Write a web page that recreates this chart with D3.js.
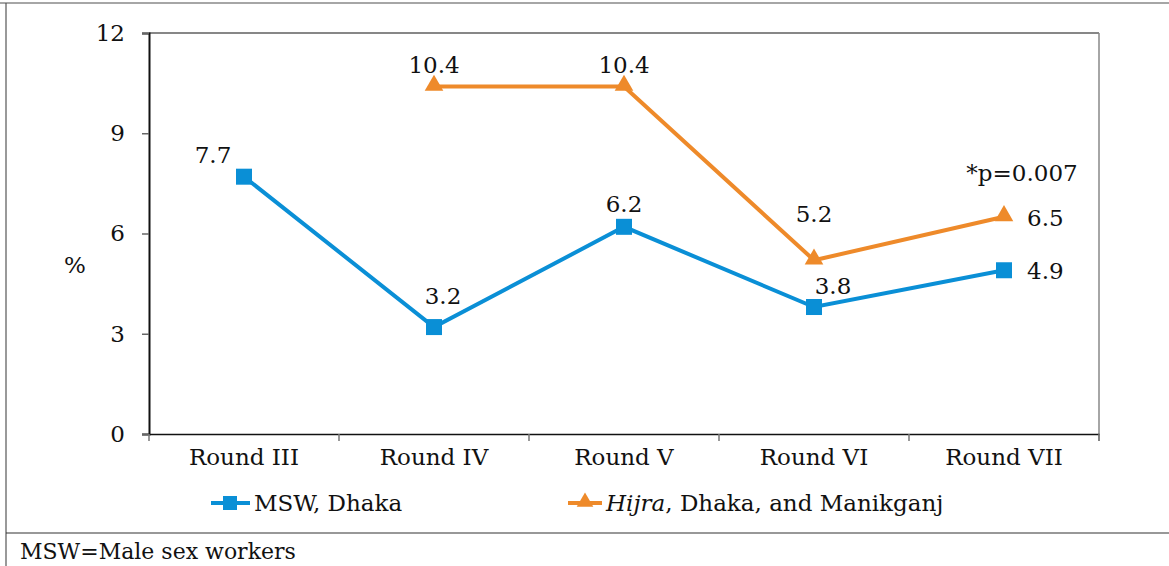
<!DOCTYPE html>
<html lang="en">
  <head>
    <meta charset="UTF-8" />
    <title>MSW and Hijra chart</title>
    <style>
      body { margin: 0; background: #fff; }
    </style>
  </head>
  <body>
  <div id="chart"></div>
  <script src="https://d3js.org/d3.v7.min.js"></script>
  <script>

var rounds = ["Round III", "Round IV", "Round V", "Round VI", "Round VII"];
var mswValues = [7.7, 3.2, 6.2, 3.8, 4.9];
var hijraValues = [null, 10.4, 10.4, 5.2, 6.5];
var yTicks = [0, 3, 6, 9, 12];

var w = 1169;
var h = 566;
var blue = "#0a8fd6";
var orange = "#ee8a2a";
var serif = "'DejaVu Serif', serif";
var fs = "23px";

var svg = d3.select("#chart").append("svg")
            .attr("width", w)
            .attr("height", h)
            .attr("font-family", serif);

// outer frame lines
svg.append("line").attr("x1", 0).attr("x2", w).attr("y1", 3).attr("y2", 3)
   .attr("stroke", "#888").attr("stroke-width", 1.5);
svg.append("line").attr("x1", 6).attr("x2", 6).attr("y1", 3).attr("y2", h)
   .attr("stroke", "#555").attr("stroke-width", 1.2);
svg.append("line").attr("x1", 6).attr("x2", w).attr("y1", 533).attr("y2", 533)
   .attr("stroke", "#333").attr("stroke-width", 1.2);

svg.append("text").attr("x", 20).attr("y", 559)
   .attr("font-family", serif).style("font-size", "22px").attr("fill", "#111")
   .text("MSW=Male sex workers");

var x = d3.scaleBand().domain(rounds).range([149, 1099]);
var y = d3.scaleLinear().domain([0, 12]).range([434, 33]);

// plot box top and right
svg.append("line").attr("x1", 149).attr("x2", 1099).attr("y1", 33).attr("y2", 33)
   .attr("stroke", "#111").attr("stroke-width", 1.2);
svg.append("line").attr("x1", 1099).attr("x2", 1099).attr("y1", 33).attr("y2", 441)
   .attr("stroke", "#888").attr("stroke-width", 1.5);

var yAxis = svg.append("g")
  .attr("transform", "translate(149,0)")
  .call(d3.axisLeft(y).tickValues(yTicks).tickSize(7).tickPadding(17));
yAxis.attr("font-family", serif).attr("font-size", null);
yAxis.select(".domain").attr("stroke", "#111").attr("stroke-width", 2);
yAxis.selectAll(".tick line").attr("stroke", "#666").attr("stroke-width", 1.5);
yAxis.selectAll("text").attr("font-family", serif).style("font-size", fs).attr("fill", "#111");

var xAxis = svg.append("g")
  .attr("transform", "translate(0,434)")
  .call(d3.axisBottom(x).tickSize(0).tickPadding(15));
xAxis.attr("font-family", serif).attr("font-size", null);
xAxis.select(".domain").attr("stroke", "#111").attr("stroke-width", 1.5);
xAxis.selectAll("text").attr("font-family", serif).style("font-size", fs).attr("fill", "#111");

// band edge ticks
var edges = rounds.map(function(d) { return x(d); }).concat([x.range()[1]]);
svg.selectAll("line.xedge").data(edges).enter().append("line")
   .attr("class", "xedge")
   .attr("x1", function(d) { return d; }).attr("x2", function(d) { return d; })
   .attr("y1", 434).attr("y2", 441)
   .attr("stroke", "#777").attr("stroke-width", 1.5);

svg.append("text").attr("x", 75).attr("y", 273)
   .attr("text-anchor", "middle").style("font-size", fs).attr("fill", "#111").text("%");

function cx(i) { return x(rounds[i]) + x.bandwidth() / 2; }

var line = d3.line()
  .defined(function(d) { return d != null; })
  .x(function(d, i) { return cx(i); })
  .y(function(d) { return y(d); });

svg.append("path").datum(mswValues).attr("d", line)
   .attr("fill", "none").attr("stroke", blue).attr("stroke-width", 4);
svg.append("path").datum(hijraValues).attr("d", line)
   .attr("fill", "none").attr("stroke", orange).attr("stroke-width", 4);

var msw = mswValues.map(function(v, i) { return { i: i, v: v }; });
var hijra = hijraValues.map(function(v, i) { return { i: i, v: v }; })
                       .filter(function(d) { return d.v != null; });

svg.selectAll("rect.msw").data(msw).enter().append("rect")
   .attr("class", "msw")
   .attr("x", function(d) { return cx(d.i) - 8; })
   .attr("y", function(d) { return y(d.v) - 8; })
   .attr("width", 16).attr("height", 16)
   .attr("fill", blue);

var tri = d3.symbol().type(d3.symbolTriangle).size(150);
svg.selectAll("path.hijra").data(hijra).enter().append("path")
   .attr("class", "hijra")
   .attr("d", tri)
   .attr("transform", function(d) { return "translate(" + cx(d.i) + "," + (y(d.v) - 1) + ")"; })
   .attr("fill", orange);

// value labels (offsets from point)
var mswOff = [[-31, -14], [9, -23], [0, -15], [19, -13], [23, 9]];
var hijraOff = [null, [0, -13], [0, -13], [0, -38], [23, 9]];

svg.selectAll("text.mswlab").data(msw).enter().append("text")
   .attr("class", "mswlab")
   .attr("x", function(d) { return cx(d.i) + mswOff[d.i][0]; })
   .attr("y", function(d) { return y(d.v) + mswOff[d.i][1]; })
   .attr("text-anchor", function(d) { return d.i == 4 ? "start" : "middle"; })
   .style("font-size", fs).attr("fill", "#111")
   .text(function(d) { return d.v.toFixed(1); });

svg.selectAll("text.hijralab").data(hijra).enter().append("text")
   .attr("class", "hijralab")
   .attr("x", function(d) { return cx(d.i) + hijraOff[d.i][0]; })
   .attr("y", function(d) { return y(d.v) + hijraOff[d.i][1]; })
   .attr("text-anchor", function(d) { return d.i == 4 ? "start" : "middle"; })
   .style("font-size", fs).attr("fill", "#111")
   .text(function(d) { return d.v.toFixed(1); });

svg.append("text").attr("x", 1022).attr("y", 181)
   .attr("text-anchor", "middle").style("font-size", fs).attr("fill", "#111")
   .text("*p=0.007");

// legend
var lg = svg.append("g").attr("transform", "translate(0,503)");
lg.append("line").attr("x1", 211).attr("x2", 250).attr("y1", 0).attr("y2", 0)
  .attr("stroke", blue).attr("stroke-width", 4);
lg.append("rect").attr("x", 223).attr("y", -7).attr("width", 14).attr("height", 14)
  .attr("fill", blue);
lg.append("text").attr("x", 254).attr("y", 8).style("font-size", fs).attr("fill", "#111")
  .text("MSW, Dhaka");

lg.append("line").attr("x1", 568).attr("x2", 602).attr("y1", 0).attr("y2", 0)
  .attr("stroke", orange).attr("stroke-width", 4);
lg.append("path").attr("d", d3.symbol().type(d3.symbolTriangle).size(120))
  .attr("transform", "translate(585,-1)").attr("fill", orange);
var t = lg.append("text").attr("x", 606).attr("y", 8).style("font-size", fs).attr("fill", "#111");
t.append("tspan").style("font-style", "italic").text("Hijra");
t.append("tspan").text(", Dhaka, and Manikganj");

  </script>
  </body>
</html>
